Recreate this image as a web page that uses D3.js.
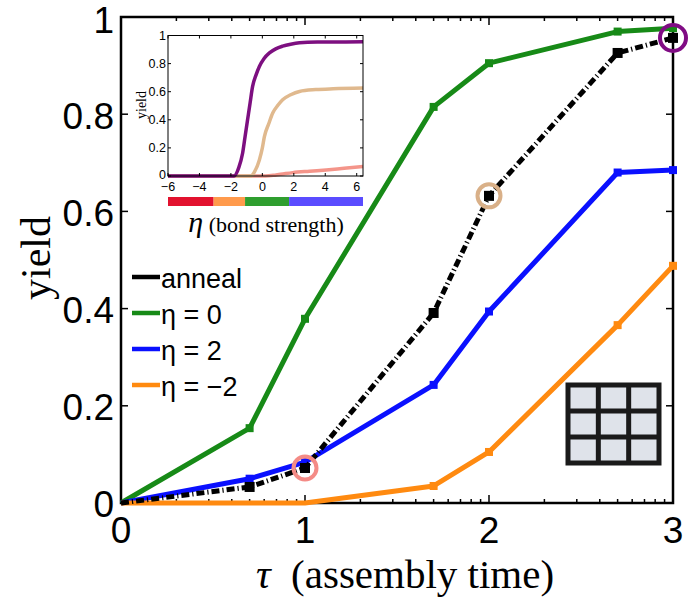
<!DOCTYPE html>
<html><head><meta charset="utf-8">
<script src="https://cdn.jsdelivr.net/npm/d3@7"></script>
<style>body{margin:0;background:#fff}svg{display:block}</style>
</head><body>
<script>
// ---- data ----
const tau = [0, 0.699, 1, 1.699, 2, 2.699, 3];
const anneal = [0, 0.033, 0.072, 0.391, 0.632, 0.926, 0.957];
const eta0 = [0, 0.154, 0.379, 0.815, 0.905, 0.97, 0.977];
const eta2 = [0, 0.05, 0.084, 0.243, 0.394, 0.68, 0.685];
const etaM2 = [0, 0, 0, 0.035, 0.105, 0.366, 0.488];
const seriesNames = ["anneal", "η = 0", "η = 2", "η = −2"];
const circledTau = [1, 2, 3];
const yTicks = [0, 0.2, 0.4, 0.6, 0.8, 1];
const xTicks = [0, 1, 2, 3];

// inset curves: [eta, yield]
const insetPurple = [[-6,0],[-1.8,0],[-1.5,0.06],[-1.26,0.16],[-1.1,0.28],[-0.94,0.40],[-0.78,0.52],[-0.62,0.638],[-0.4,0.72],[-0.19,0.78],[0.1,0.835],[0.45,0.876],[0.85,0.905],[1.29,0.924],[1.8,0.938],[2.36,0.948],[3.5,0.953],[6.4,0.955]];
const insetTan = [[-6,0],[-0.75,0],[-0.5,0.03],[-0.19,0.114],[0.0,0.2],[0.13,0.281],[0.4,0.37],[0.66,0.448],[1.0,0.505],[1.29,0.543],[1.8,0.578],[2.36,0.602],[3.4,0.615],[4.5,0.621],[6.4,0.626]];
const insetSalmon = [[-6,0],[0.2,0],[0.8,0.006],[1.4,0.016],[1.93,0.024],[3.0,0.034],[4.06,0.043],[5.2,0.055],[6.4,0.067]];
const insetXTicks = [-6, -4, -2, 0, 2, 4, 6];
const insetYTicks = [0, 0.2, 0.4, 0.6, 0.8, 1];
const bandEdges = [-6, -3.1, -1.1, 1.7, 6.4];
const bandColors = ["#e2122f", "#ff9a4c", "#2f9e2f", "#5a4cff"];

const W = 691, H = 598;
const svg = d3.select("body").append("svg").attr("width", W).attr("height", H);

const x = d3.scaleLinear().domain([0, 3]).range([121, 673]);
const y = d3.scaleLinear().domain([0, 1]).range([503, 17]);

const sans = "'Liberation Sans', Arial, Helvetica, sans-serif";
const serif = "'Liberation Serif', 'Times New Roman', serif";

// frame
svg.append("rect").attr("x", x(0)).attr("y", y(1)).attr("width", x(3) - x(0)).attr("height", y(0) - y(1))
  .attr("fill", "none").attr("stroke", "#000").attr("stroke-width", 2.5);

// ticks
const minor = [];
for (let n = 0; n < 3; n++) for (let k = 2; k <= 9; k++) minor.push(n + Math.log10(k));
const tk = svg.append("g").attr("stroke", "#000").attr("stroke-width", 1.5);
xTicks.forEach(t => {
  tk.append("line").attr("x1", x(t)).attr("x2", x(t)).attr("y1", y(0)).attr("y2", y(0) - 8);
  tk.append("line").attr("x1", x(t)).attr("x2", x(t)).attr("y1", y(1)).attr("y2", y(1) + 8);
});
minor.forEach(t => {
  tk.append("line").attr("x1", x(t)).attr("x2", x(t)).attr("y1", y(0)).attr("y2", y(0) - 4);
  tk.append("line").attr("x1", x(t)).attr("x2", x(t)).attr("y1", y(1)).attr("y2", y(1) + 4);
});
yTicks.forEach(v => {
  tk.append("line").attr("x1", x(0)).attr("x2", x(0) + 7).attr("y1", y(v)).attr("y2", y(v));
  tk.append("line").attr("x1", x(3)).attr("x2", x(3) - 7).attr("y1", y(v)).attr("y2", y(v));
});

// tick labels
svg.append("g").selectAll("text").data(yTicks).join("text")
  .attr("x", x(0) - 7).attr("y", d => y(d) + (d === 1 ? 3 : 1)).attr("dy", "0.36em").attr("text-anchor", "end")
  .attr("font-family", sans).attr("font-size", 37).text(d => d === 0 || d === 1 ? String(d) : d.toFixed(1));
svg.append("g").selectAll("text").data(xTicks).join("text")
  .attr("x", d => x(d)).attr("y", 543).attr("text-anchor", "middle")
  .attr("font-family", sans).attr("font-size", 37).text(d => d);

// axis labels
svg.append("text").attr("transform", "translate(50,258) rotate(-90)").attr("text-anchor", "middle")
  .attr("font-family", serif).attr("font-size", 42).text("yield");
const xl = svg.append("text").attr("x", 405).attr("y", 588).attr("text-anchor", "middle")
  .attr("font-family", serif).attr("font-size", 41);
xl.append("tspan").attr("font-style", "italic").text("τ");
xl.append("tspan").text("\u00a0 (assembly time)");

// lines
const line = d3.line().x((d, i) => x(tau[i])).y(d => y(d));
const series = [
  {vals: eta0, color: "#178a17"},
  {vals: eta2, color: "#0a10ff"},
  {vals: etaM2, color: "#ff8a10"},
];
series.forEach(s => {
  svg.append("path").attr("d", line(s.vals)).attr("fill", "none").attr("stroke", s.color)
    .attr("stroke-width", 5).attr("stroke-linejoin", "round");
  svg.append("g").selectAll("rect").data(s.vals.map((v, i) => [tau[i], v]).filter(d => d[0] > 0 && d[1] > 0)).join("rect")
    .attr("x", d => x(d[0]) - 4).attr("y", d => y(d[1]) - 4).attr("width", 8).attr("height", 8).attr("fill", s.color);
});
svg.append("path").attr("d", line(anneal)).attr("fill", "none").attr("stroke", "#000")
  .attr("stroke-width", 5).attr("stroke-dasharray", "8,3,1.2,3");
svg.append("g").selectAll("rect").data(anneal.map((v, i) => [tau[i], v]).filter(d => d[0] > 0)).join("rect")
  .attr("x", d => x(d[0]) - 5).attr("y", d => y(d[1]) - 5).attr("width", 10).attr("height", 10).attr("fill", "#000");

// circles
const circColors = ["#f48b86", "#d9b088", "#800c84"];
circledTau.forEach((t, j) => {
  const i = tau.indexOf(t);
  svg.append("circle").attr("cx", x(t)).attr("cy", y(anneal[i])).attr("r", j === 2 ? 13 : 11.5)
    .attr("fill", "none").attr("stroke", circColors[j]).attr("stroke-width", 4);
});

// legend
const legColors = ["#000", "#178a17", "#0a10ff", "#ff8a10"];
const lg = svg.append("g");
seriesNames.forEach((n, i) => {
  const yy = 277 + i * 36;
  lg.append("line").attr("x1", 132).attr("x2", 160).attr("y1", yy).attr("y2", yy)
    .attr("stroke", legColors[i]).attr("stroke-width", 4.5);
  lg.append("text").attr("x", 161).attr("y", yy + 1).attr("dy", "0.36em")
    .attr("font-family", sans).attr("font-size", 27).text(n);
});

// grid icon
const gi = svg.append("g");
const gx0 = 568, gy0 = 385, gw = 91, gh = 78;
gi.append("rect").attr("x", gx0).attr("y", gy0).attr("width", gw).attr("height", gh).attr("fill", "#dfe3ea")
  .attr("stroke", "#1a1a1a").attr("stroke-width", 5);
[1, 2].forEach(k => {
  gi.append("line").attr("x1", gx0 + gw * k / 3).attr("x2", gx0 + gw * k / 3).attr("y1", gy0).attr("y2", gy0 + gh)
    .attr("stroke", "#1a1a1a").attr("stroke-width", 5);
  gi.append("line").attr("y1", gy0 + gh * k / 3).attr("y2", gy0 + gh * k / 3).attr("x1", gx0).attr("x2", gx0 + gw)
    .attr("stroke", "#1a1a1a").attr("stroke-width", 5);
});

// ---- inset ----
const xi = d3.scaleLinear().domain([-6, 6.4]).range([168, 363]);
const yi = d3.scaleLinear().domain([0, 1]).range([176, 35.5]);
const ins = svg.append("g");
ins.append("rect").attr("x", xi(-6)).attr("y", yi(1)).attr("width", xi(6.4) - xi(-6)).attr("height", yi(0) - yi(1))
  .attr("fill", "#fff");
const iline = d3.line().x(d => xi(d[0])).y(d => yi(d[1])).curve(d3.curveMonotoneX);
[[insetSalmon, "#f4958a"], [insetTan, "#e0b98e"], [insetPurple, "#7d0f80"]].forEach(([d, c]) => {
  ins.append("path").attr("d", iline(d)).attr("fill", "none").attr("stroke", c).attr("stroke-width", 3.5);
});
ins.append("rect").attr("x", xi(-6)).attr("y", yi(1)).attr("width", xi(6.4) - xi(-6)).attr("height", yi(0) - yi(1))
  .attr("fill", "none").attr("stroke", "#000").attr("stroke-width", 1);
insetXTicks.forEach(t => {
  ins.append("line").attr("x1", xi(t)).attr("x2", xi(t)).attr("y1", yi(0)).attr("y2", yi(0) - 3).attr("stroke", "#000");
  ins.append("line").attr("x1", xi(t)).attr("x2", xi(t)).attr("y1", yi(1)).attr("y2", yi(1) + 3).attr("stroke", "#000");
});
insetYTicks.forEach(v => {
  ins.append("line").attr("x1", xi(-6)).attr("x2", xi(-6) + 3).attr("y1", yi(v)).attr("y2", yi(v)).attr("stroke", "#000");
  ins.append("line").attr("x1", xi(6.4)).attr("x2", xi(6.4) - 3).attr("y1", yi(v)).attr("y2", yi(v)).attr("stroke", "#000");
});
ins.selectAll("text.xt").data(insetXTicks).join("text").attr("class", "xt")
  .attr("x", d => xi(d)).attr("y", 191).attr("text-anchor", "middle")
  .attr("font-family", sans).attr("font-size", 12.5).text(d => d < 0 ? "−" + (-d) : d);
ins.selectAll("text.yt").data(insetYTicks).join("text").attr("class", "yt")
  .attr("x", xi(-6) - 2).attr("y", d => yi(d) - (d === 0 ? 2 : 0)).attr("dy", "0.36em").attr("text-anchor", "end")
  .attr("font-family", sans).attr("font-size", 12.5).text(d => d === 0 || d === 1 ? String(d) : d.toFixed(1));
ins.append("text").attr("transform", "translate(146,105) rotate(-90)").attr("text-anchor", "middle")
  .attr("font-family", serif).attr("font-size", 14).text("yield");
// color band
ins.selectAll("rect.band").data(bandColors).join("rect").attr("class", "band")
  .attr("x", (d, i) => xi(bandEdges[i])).attr("width", (d, i) => xi(bandEdges[i + 1]) - xi(bandEdges[i]))
  .attr("y", 197).attr("height", 9).attr("fill", d => d);
const il = ins.append("text").attr("x", 266).attr("y", 232).attr("text-anchor", "middle").attr("font-family", serif);
il.append("tspan").attr("font-style", "italic").attr("font-size", 30).text("η");
il.append("tspan").attr("font-size", 22).text(" (bond strength)");
</script>
</body></html>
